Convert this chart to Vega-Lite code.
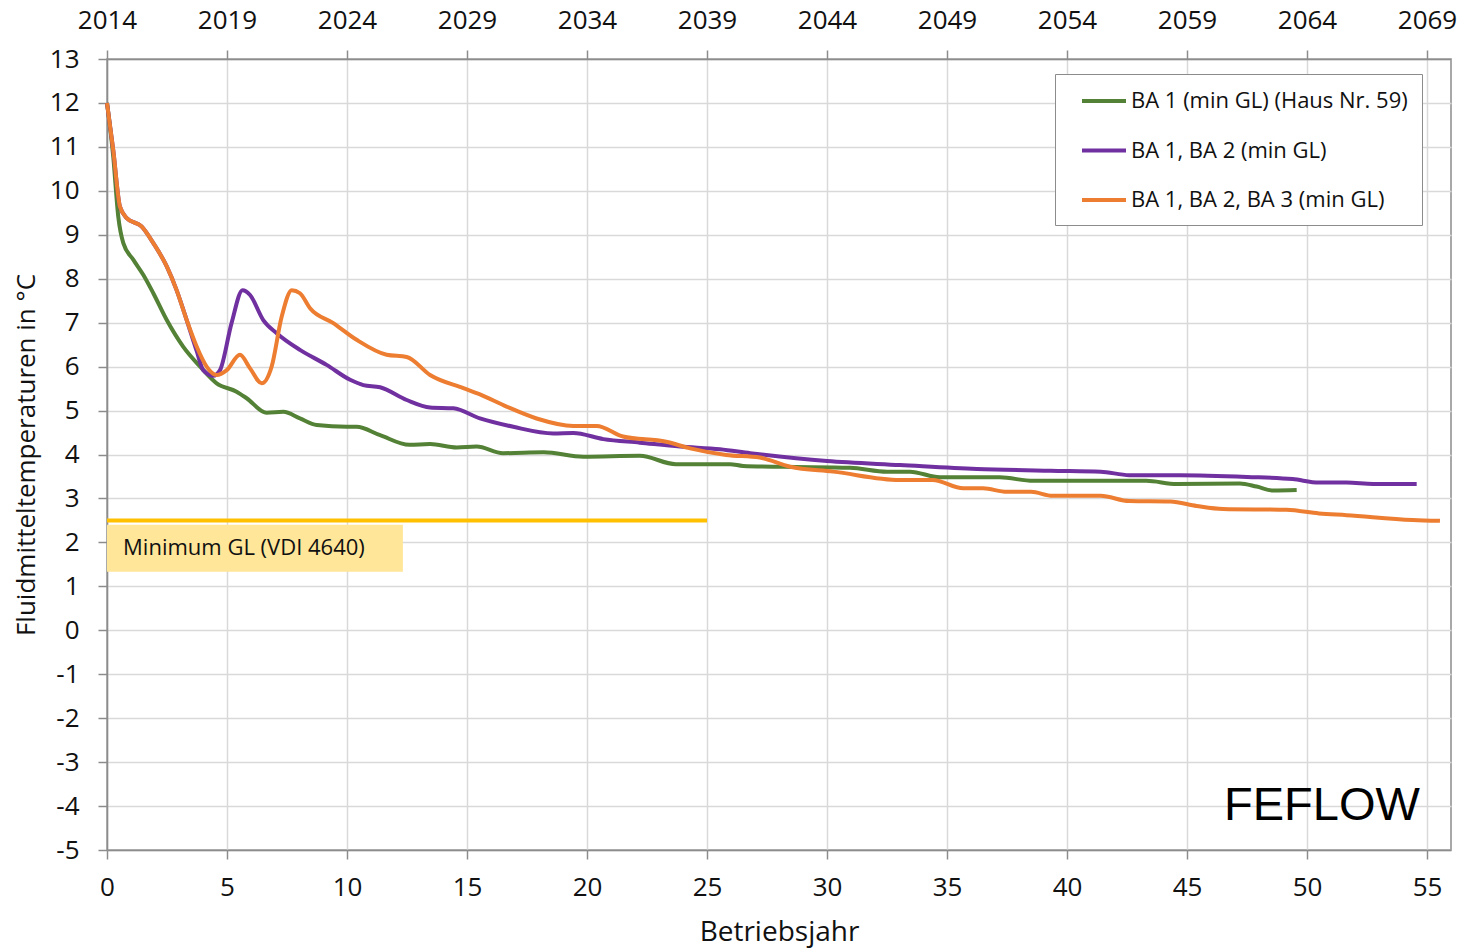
{
  "$schema": "https://vega.github.io/schema/vega-lite/v6.json",
  "width": 1344,
  "height": 791,
  "autosize": {"type": "none"},
  "padding": {"left": 107, "top": 59, "right": 11, "bottom": 99},
  "background": "white",
  "config": {
    "font": "Open Sans",
    "view": {"stroke": "#8c8c8c", "strokeWidth": 1.5},
    "axis": {
      "labelFont": "Open Sans",
      "titleFont": "Open Sans",
      "labelColor": "#111111",
      "titleColor": "#111111",
      "labelFontSize": 26,
      "titleFontSize": 25,
      "titleFontWeight": "normal",
      "domainColor": "#8c8c8c",
      "domainWidth": 1.5,
      "tickColor": "#8c8c8c",
      "tickWidth": 1.5,
      "tickSize": 9,
      "gridColor": "#d9d9d9",
      "gridWidth": 1.5,
      "labelFlush": false
    },
    "legend": {
      "labelFont": "Open Sans"
    }
  },
  "datasets": {
    "kurven": [
      {"serie": "BA 1 (min GL) (Haus Nr. 59)", "jahr": 0, "temp": 12.0},
      {"serie": "BA 1 (min GL) (Haus Nr. 59)", "jahr": 0.26, "temp": 10.78},
      {"serie": "BA 1 (min GL) (Haus Nr. 59)", "jahr": 0.47, "temp": 9.41},
      {"serie": "BA 1 (min GL) (Haus Nr. 59)", "jahr": 0.68, "temp": 8.81},
      {"serie": "BA 1 (min GL) (Haus Nr. 59)", "jahr": 1.10, "temp": 8.43},
      {"serie": "BA 1 (min GL) (Haus Nr. 59)", "jahr": 1.51, "temp": 8.09},
      {"serie": "BA 1 (min GL) (Haus Nr. 59)", "jahr": 1.93, "temp": 7.67},
      {"serie": "BA 1 (min GL) (Haus Nr. 59)", "jahr": 2.49, "temp": 7.06},
      {"serie": "BA 1 (min GL) (Haus Nr. 59)", "jahr": 3.18, "temp": 6.45},
      {"serie": "BA 1 (min GL) (Haus Nr. 59)", "jahr": 3.88, "temp": 6.0},
      {"serie": "BA 1 (min GL) (Haus Nr. 59)", "jahr": 4.57, "temp": 5.62},
      {"serie": "BA 1 (min GL) (Haus Nr. 59)", "jahr": 5.40, "temp": 5.43},
      {"serie": "BA 1 (min GL) (Haus Nr. 59)", "jahr": 5.82, "temp": 5.28},
      {"serie": "BA 1 (min GL) (Haus Nr. 59)", "jahr": 6.65, "temp": 4.95},
      {"serie": "BA 1 (min GL) (Haus Nr. 59)", "jahr": 7.35, "temp": 4.97},
      {"serie": "BA 1 (min GL) (Haus Nr. 59)", "jahr": 8.04, "temp": 4.82},
      {"serie": "BA 1 (min GL) (Haus Nr. 59)", "jahr": 8.74, "temp": 4.67},
      {"serie": "BA 1 (min GL) (Haus Nr. 59)", "jahr": 9.99, "temp": 4.63},
      {"serie": "BA 1 (min GL) (Haus Nr. 59)", "jahr": 10.4, "temp": 4.63},
      {"serie": "BA 1 (min GL) (Haus Nr. 59)", "jahr": 11.38, "temp": 4.44},
      {"serie": "BA 1 (min GL) (Haus Nr. 59)", "jahr": 12.6, "temp": 4.22},
      {"serie": "BA 1 (min GL) (Haus Nr. 59)", "jahr": 13.46, "temp": 4.24},
      {"serie": "BA 1 (min GL) (Haus Nr. 59)", "jahr": 14.57, "temp": 4.16},
      {"serie": "BA 1 (min GL) (Haus Nr. 59)", "jahr": 15.4, "temp": 4.18},
      {"serie": "BA 1 (min GL) (Haus Nr. 59)", "jahr": 16.5, "temp": 4.03},
      {"serie": "BA 1 (min GL) (Haus Nr. 59)", "jahr": 18.2, "temp": 4.05},
      {"serie": "BA 1 (min GL) (Haus Nr. 59)", "jahr": 19.85, "temp": 3.95},
      {"serie": "BA 1 (min GL) (Haus Nr. 59)", "jahr": 22.2, "temp": 3.97},
      {"serie": "BA 1 (min GL) (Haus Nr. 59)", "jahr": 23.7, "temp": 3.78},
      {"serie": "BA 1 (min GL) (Haus Nr. 59)", "jahr": 25.96, "temp": 3.78},
      {"serie": "BA 1 (min GL) (Haus Nr. 59)", "jahr": 26.5, "temp": 3.74},
      {"serie": "BA 1 (min GL) (Haus Nr. 59)", "jahr": 28.2, "temp": 3.72},
      {"serie": "BA 1 (min GL) (Haus Nr. 59)", "jahr": 30.96, "temp": 3.70},
      {"serie": "BA 1 (min GL) (Haus Nr. 59)", "jahr": 32.5, "temp": 3.61},
      {"serie": "BA 1 (min GL) (Haus Nr. 59)", "jahr": 33.46, "temp": 3.61},
      {"serie": "BA 1 (min GL) (Haus Nr. 59)", "jahr": 34.7, "temp": 3.48},
      {"serie": "BA 1 (min GL) (Haus Nr. 59)", "jahr": 37.2, "temp": 3.48},
      {"serie": "BA 1 (min GL) (Haus Nr. 59)", "jahr": 38.6, "temp": 3.40},
      {"serie": "BA 1 (min GL) (Haus Nr. 59)", "jahr": 41.4, "temp": 3.40},
      {"serie": "BA 1 (min GL) (Haus Nr. 59)", "jahr": 43.3, "temp": 3.40},
      {"serie": "BA 1 (min GL) (Haus Nr. 59)", "jahr": 44.57, "temp": 3.33},
      {"serie": "BA 1 (min GL) (Haus Nr. 59)", "jahr": 47.2, "temp": 3.34},
      {"serie": "BA 1 (min GL) (Haus Nr. 59)", "jahr": 47.9, "temp": 3.27},
      {"serie": "BA 1 (min GL) (Haus Nr. 59)", "jahr": 48.6, "temp": 3.18},
      {"serie": "BA 1 (min GL) (Haus Nr. 59)", "jahr": 49.57, "temp": 3.19},

      {"serie": "BA 1, BA 2 (min GL)", "jahr": 0, "temp": 12.0},
      {"serie": "BA 1, BA 2 (min GL)", "jahr": 0.26, "temp": 10.93},
      {"serie": "BA 1, BA 2 (min GL)", "jahr": 0.54, "temp": 9.64},
      {"serie": "BA 1, BA 2 (min GL)", "jahr": 0.82, "temp": 9.38},
      {"serie": "BA 1, BA 2 (min GL)", "jahr": 1.44, "temp": 9.19},
      {"serie": "BA 1, BA 2 (min GL)", "jahr": 1.93, "temp": 8.81},
      {"serie": "BA 1, BA 2 (min GL)", "jahr": 2.49, "temp": 8.28},
      {"serie": "BA 1, BA 2 (min GL)", "jahr": 2.90, "temp": 7.74},
      {"serie": "BA 1, BA 2 (min GL)", "jahr": 3.32, "temp": 7.06},
      {"serie": "BA 1, BA 2 (min GL)", "jahr": 3.74, "temp": 6.35},
      {"serie": "BA 1, BA 2 (min GL)", "jahr": 4.01, "temp": 5.92},
      {"serie": "BA 1, BA 2 (min GL)", "jahr": 4.43, "temp": 5.79},
      {"serie": "BA 1, BA 2 (min GL)", "jahr": 4.71, "temp": 5.92},
      {"serie": "BA 1, BA 2 (min GL)", "jahr": 5.19, "temp": 6.99},
      {"serie": "BA 1, BA 2 (min GL)", "jahr": 5.65, "temp": 7.74},
      {"serie": "BA 1, BA 2 (min GL)", "jahr": 5.96, "temp": 7.63},
      {"serie": "BA 1, BA 2 (min GL)", "jahr": 6.51, "temp": 7.06},
      {"serie": "BA 1, BA 2 (min GL)", "jahr": 7.07, "temp": 6.76},
      {"serie": "BA 1, BA 2 (min GL)", "jahr": 8.04, "temp": 6.38},
      {"serie": "BA 1, BA 2 (min GL)", "jahr": 9.15, "temp": 6.04},
      {"serie": "BA 1, BA 2 (min GL)", "jahr": 10.13, "temp": 5.70},
      {"serie": "BA 1, BA 2 (min GL)", "jahr": 10.68, "temp": 5.58},
      {"serie": "BA 1, BA 2 (min GL)", "jahr": 11.38, "temp": 5.53},
      {"serie": "BA 1, BA 2 (min GL)", "jahr": 12.49, "temp": 5.24},
      {"serie": "BA 1, BA 2 (min GL)", "jahr": 13.46, "temp": 5.07},
      {"serie": "BA 1, BA 2 (min GL)", "jahr": 14.43, "temp": 5.05},
      {"serie": "BA 1, BA 2 (min GL)", "jahr": 15.54, "temp": 4.82},
      {"serie": "BA 1, BA 2 (min GL)", "jahr": 16.93, "temp": 4.63},
      {"serie": "BA 1, BA 2 (min GL)", "jahr": 18.6, "temp": 4.48},
      {"serie": "BA 1, BA 2 (min GL)", "jahr": 19.43, "temp": 4.49},
      {"serie": "BA 1, BA 2 (min GL)", "jahr": 20.68, "temp": 4.35},
      {"serie": "BA 1, BA 2 (min GL)", "jahr": 22.2, "temp": 4.27},
      {"serie": "BA 1, BA 2 (min GL)", "jahr": 23.88, "temp": 4.18},
      {"serie": "BA 1, BA 2 (min GL)", "jahr": 25.54, "temp": 4.12},
      {"serie": "BA 1, BA 2 (min GL)", "jahr": 26.8, "temp": 4.03},
      {"serie": "BA 1, BA 2 (min GL)", "jahr": 30.0, "temp": 3.85},
      {"serie": "BA 1, BA 2 (min GL)", "jahr": 33.04, "temp": 3.76},
      {"serie": "BA 1, BA 2 (min GL)", "jahr": 36.24, "temp": 3.67},
      {"serie": "BA 1, BA 2 (min GL)", "jahr": 39.3, "temp": 3.63},
      {"serie": "BA 1, BA 2 (min GL)", "jahr": 41.4, "temp": 3.61},
      {"serie": "BA 1, BA 2 (min GL)", "jahr": 42.6, "temp": 3.53},
      {"serie": "BA 1, BA 2 (min GL)", "jahr": 44.7, "temp": 3.53},
      {"serie": "BA 1, BA 2 (min GL)", "jahr": 47.5, "temp": 3.49},
      {"serie": "BA 1, BA 2 (min GL)", "jahr": 49.4, "temp": 3.44},
      {"serie": "BA 1, BA 2 (min GL)", "jahr": 50.5, "temp": 3.36},
      {"serie": "BA 1, BA 2 (min GL)", "jahr": 51.65, "temp": 3.36},
      {"serie": "BA 1, BA 2 (min GL)", "jahr": 52.76, "temp": 3.33},
      {"serie": "BA 1, BA 2 (min GL)", "jahr": 54.57, "temp": 3.33},

      {"serie": "BA 1, BA 2, BA 3 (min GL)", "jahr": 0, "temp": 12.0},
      {"serie": "BA 1, BA 2, BA 3 (min GL)", "jahr": 0.26, "temp": 10.93},
      {"serie": "BA 1, BA 2, BA 3 (min GL)", "jahr": 0.54, "temp": 9.64},
      {"serie": "BA 1, BA 2, BA 3 (min GL)", "jahr": 0.82, "temp": 9.38},
      {"serie": "BA 1, BA 2, BA 3 (min GL)", "jahr": 1.44, "temp": 9.19},
      {"serie": "BA 1, BA 2, BA 3 (min GL)", "jahr": 1.93, "temp": 8.81},
      {"serie": "BA 1, BA 2, BA 3 (min GL)", "jahr": 2.49, "temp": 8.28},
      {"serie": "BA 1, BA 2, BA 3 (min GL)", "jahr": 2.90, "temp": 7.74},
      {"serie": "BA 1, BA 2, BA 3 (min GL)", "jahr": 3.32, "temp": 7.06},
      {"serie": "BA 1, BA 2, BA 3 (min GL)", "jahr": 3.74, "temp": 6.45},
      {"serie": "BA 1, BA 2, BA 3 (min GL)", "jahr": 4.15, "temp": 6.0},
      {"serie": "BA 1, BA 2, BA 3 (min GL)", "jahr": 4.57, "temp": 5.81},
      {"serie": "BA 1, BA 2, BA 3 (min GL)", "jahr": 4.99, "temp": 5.92},
      {"serie": "BA 1, BA 2, BA 3 (min GL)", "jahr": 5.54, "temp": 6.27},
      {"serie": "BA 1, BA 2, BA 3 (min GL)", "jahr": 5.96, "temp": 5.96},
      {"serie": "BA 1, BA 2, BA 3 (min GL)", "jahr": 6.45, "temp": 5.62},
      {"serie": "BA 1, BA 2, BA 3 (min GL)", "jahr": 6.86, "temp": 6.0},
      {"serie": "BA 1, BA 2, BA 3 (min GL)", "jahr": 7.28, "temp": 7.14},
      {"serie": "BA 1, BA 2, BA 3 (min GL)", "jahr": 7.70, "temp": 7.74},
      {"serie": "BA 1, BA 2, BA 3 (min GL)", "jahr": 8.04, "temp": 7.67},
      {"serie": "BA 1, BA 2, BA 3 (min GL)", "jahr": 8.46, "temp": 7.33},
      {"serie": "BA 1, BA 2, BA 3 (min GL)", "jahr": 9.43, "temp": 6.99},
      {"serie": "BA 1, BA 2, BA 3 (min GL)", "jahr": 10.4, "temp": 6.61},
      {"serie": "BA 1, BA 2, BA 3 (min GL)", "jahr": 11.65, "temp": 6.27},
      {"serie": "BA 1, BA 2, BA 3 (min GL)", "jahr": 12.49, "temp": 6.22},
      {"serie": "BA 1, BA 2, BA 3 (min GL)", "jahr": 13.46, "temp": 5.81},
      {"serie": "BA 1, BA 2, BA 3 (min GL)", "jahr": 14.85, "temp": 5.51},
      {"serie": "BA 1, BA 2, BA 3 (min GL)", "jahr": 15.54, "temp": 5.37},
      {"serie": "BA 1, BA 2, BA 3 (min GL)", "jahr": 16.65, "temp": 5.09},
      {"serie": "BA 1, BA 2, BA 3 (min GL)", "jahr": 17.9, "temp": 4.82},
      {"serie": "BA 1, BA 2, BA 3 (min GL)", "jahr": 19.43, "temp": 4.65},
      {"serie": "BA 1, BA 2, BA 3 (min GL)", "jahr": 20.4, "temp": 4.65},
      {"serie": "BA 1, BA 2, BA 3 (min GL)", "jahr": 21.5, "temp": 4.41},
      {"serie": "BA 1, BA 2, BA 3 (min GL)", "jahr": 23.3, "temp": 4.29},
      {"serie": "BA 1, BA 2, BA 3 (min GL)", "jahr": 24.3, "temp": 4.14},
      {"serie": "BA 1, BA 2, BA 3 (min GL)", "jahr": 25.8, "temp": 3.99},
      {"serie": "BA 1, BA 2, BA 3 (min GL)", "jahr": 27.2, "temp": 3.93},
      {"serie": "BA 1, BA 2, BA 3 (min GL)", "jahr": 28.46, "temp": 3.72},
      {"serie": "BA 1, BA 2, BA 3 (min GL)", "jahr": 30.26, "temp": 3.61},
      {"serie": "BA 1, BA 2, BA 3 (min GL)", "jahr": 33.04, "temp": 3.42},
      {"serie": "BA 1, BA 2, BA 3 (min GL)", "jahr": 34.4, "temp": 3.42},
      {"serie": "BA 1, BA 2, BA 3 (min GL)", "jahr": 35.68, "temp": 3.23},
      {"serie": "BA 1, BA 2, BA 3 (min GL)", "jahr": 36.5, "temp": 3.23},
      {"serie": "BA 1, BA 2, BA 3 (min GL)", "jahr": 37.5, "temp": 3.15},
      {"serie": "BA 1, BA 2, BA 3 (min GL)", "jahr": 38.5, "temp": 3.15},
      {"serie": "BA 1, BA 2, BA 3 (min GL)", "jahr": 39.4, "temp": 3.06},
      {"serie": "BA 1, BA 2, BA 3 (min GL)", "jahr": 41.4, "temp": 3.06},
      {"serie": "BA 1, BA 2, BA 3 (min GL)", "jahr": 42.6, "temp": 2.94},
      {"serie": "BA 1, BA 2, BA 3 (min GL)", "jahr": 44.3, "temp": 2.93},
      {"serie": "BA 1, BA 2, BA 3 (min GL)", "jahr": 45.4, "temp": 2.83},
      {"serie": "BA 1, BA 2, BA 3 (min GL)", "jahr": 46.5, "temp": 2.76},
      {"serie": "BA 1, BA 2, BA 3 (min GL)", "jahr": 49.15, "temp": 2.74},
      {"serie": "BA 1, BA 2, BA 3 (min GL)", "jahr": 50.5, "temp": 2.66},
      {"serie": "BA 1, BA 2, BA 3 (min GL)", "jahr": 51.65, "temp": 2.62},
      {"serie": "BA 1, BA 2, BA 3 (min GL)", "jahr": 54.4, "temp": 2.51},
      {"serie": "BA 1, BA 2, BA 3 (min GL)", "jahr": 55.54, "temp": 2.49}
    ],
    "grenze": [
      {"label": "Minimum GL (VDI 4640)", "von": 0, "bis": 25, "wert": 2.5, "box_von": 0, "box_bis": 12.33, "box_unten": 1.33, "box_oben": 2.4, "text_x": 0.67, "text_y": 1.87}
    ],
    "modell": [
      {"label": "FEFLOW", "x": 54.7, "y": -4.32}
    ]
  },
  "layer": [
    {
      "data": {"name": "kurven"},
      "mark": {"type": "line", "interpolate": "monotone", "strokeWidth": 4},
      "encoding": {
        "x": {
          "field": "jahr", "type": "quantitative",
          "scale": {"domain": [0, 56], "nice": false},
          "axis": {
            "orient": "bottom", "title": "Betriebsjahr", "values": [0, 5, 10, 15, 20, 25, 30, 35, 40, 45, 50, 55],
            "grid": true, "labelPadding": 15, "titlePadding": 18, "titleFontSize": 28
          }
        },
        "y": {
          "field": "temp", "type": "quantitative",
          "scale": {"domain": [-5, 13], "nice": false},
          "title": "Fluidmitteltemperaturen in °C",
          "axis": {
            "title": "Fluidmitteltemperaturen in °C", "values": [-5, -4, -3, -2, -1, 0, 1, 2, 3, 4, 5, 6, 7, 8, 9, 10, 11, 12, 13],
            "labelExpr": "'' + datum.value",
            "grid": true, "labelPadding": 19, "titlePadding": 10, "titleFontSize": 26
          }
        },
        "color": {
          "field": "serie", "type": "nominal",
          "scale": {
            "domain": ["BA 1 (min GL) (Haus Nr. 59)", "BA 1, BA 2 (min GL)", "BA 1, BA 2, BA 3 (min GL)"],
            "range": ["#538135", "#7030A0", "#ED7D31"]
          },
          "legend": {
            "title": null,
            "orient": "none",
            "legendX": 948,
            "legendY": 15,
            "direction": "vertical",
            "symbolType": "M-2,0H2",
            "symbolSize": 484,
            "symbolStrokeWidth": 4,
            "symbolOffset": 22,
            "labelFontSize": 22,
            "labelLimit": 500,
            "labelColor": "#111111",
            "labelOffset": 14,
            "rowPadding": 25.5,
            "padding": 14,
            "strokeColor": "#8c8c8c",
            "fillColor": "white",
            "cornerRadius": 0
          }
        }
      }
    },
    {
      "data": {"name": "grenze"},
      "mark": {"type": "rect", "color": "#FFE699", "opacity": 1},
      "encoding": {
        "x": {"field": "box_von", "type": "quantitative", "axis": null},
        "x2": {"field": "box_bis"},
        "y": {"field": "box_unten", "type": "quantitative", "title": "Fluidmitteltemperaturen in °C"},
        "y2": {"field": "box_oben"}
      }
    },
    {
      "data": {"name": "grenze"},
      "mark": {"type": "rule", "color": "#FFC000", "strokeWidth": 4},
      "encoding": {
        "x": {"field": "von", "type": "quantitative", "axis": null},
        "x2": {"field": "bis"},
        "y": {"field": "wert", "type": "quantitative", "title": "Fluidmitteltemperaturen in °C"}
      }
    },
    {
      "data": {"name": "grenze"},
      "mark": {"type": "text", "align": "left", "baseline": "middle", "fontSize": 22, "font": "Open Sans", "color": "#111111"},
      "encoding": {
        "x": {"field": "text_x", "type": "quantitative", "axis": null},
        "y": {"field": "text_y", "type": "quantitative", "title": "Fluidmitteltemperaturen in °C"},
        "text": {"field": "label"}
      }
    },
    {
      "data": {"name": "modell"},
      "mark": {"type": "text", "align": "right", "baseline": "alphabetic", "fontSize": 47, "font": "Liberation Sans", "color": "#000000"},
      "encoding": {
        "x": {"field": "x", "type": "quantitative", "axis": null},
        "y": {"field": "y", "type": "quantitative", "title": "Fluidmitteltemperaturen in °C"},
        "text": {"field": "label"}
      }
    },
    {
      "data": {"values": [{"jahr": 0}]},
      "mark": {"type": "rule", "opacity": 0},
      "encoding": {
        "x": {
          "field": "jahr", "type": "quantitative",
          "axis": {
            "orient": "top", "title": null, "values": [0, 5, 10, 15, 20, 25, 30, 35, 40, 45, 50, 55],
            "labelExpr": "datum.value + 2014", "grid": false, "labelPadding": 17
          }
        }
      }
    }
  ],
  "resolve": {"axis": {"x": "independent"}}
}
